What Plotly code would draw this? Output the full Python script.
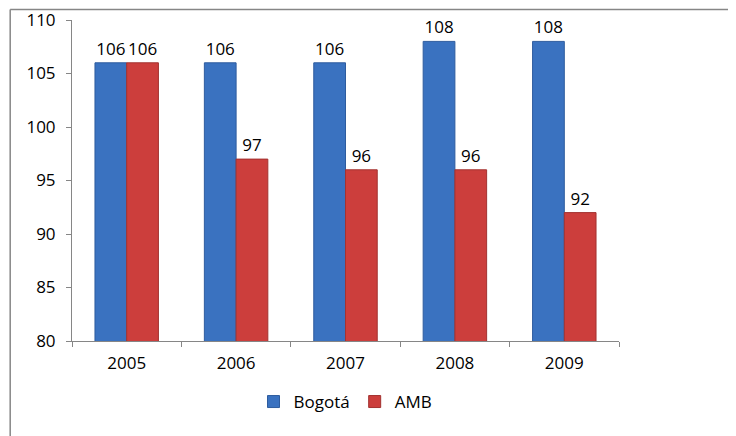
import plotly.graph_objects as go

years = ["2005", "2006", "2007", "2008", "2009"]
bogota = [106, 106, 106, 108, 108]
amb = [106, 97, 96, 96, 92]
y_ticks = [80, 85, 90, 95, 100, 105, 110]

FONT = "Open Sans"
FS = 17

fig = go.Figure()
fig.add_trace(go.Bar(
    x=years, y=bogota, name="Bogotá",
    marker=dict(color="#3A72C0", line=dict(color="#2E5C9E", width=1)),
    text=bogota, textposition="outside", cliponaxis=False,
    textfont=dict(family=FONT, size=FS, color="#000000"),
))
fig.add_trace(go.Bar(
    x=years, y=amb, name="AMB",
    marker=dict(color="#CC3E3C", line=dict(color="#A33230", width=1)),
    text=amb, textposition="outside", cliponaxis=False,
    textfont=dict(family=FONT, size=FS, color="#000000"),
))

fig.update_layout(
    width=736, height=436,
    margin=dict(l=64, r=125, t=12, b=103, autoexpand=False),
    paper_bgcolor="white", plot_bgcolor="white",
    barmode="group", bargap=0.42, bargroupgap=0,
    font=dict(family=FONT, size=FS, color="#000000"),
    showlegend=True,
    legend=dict(orientation="h", x=0.5, xanchor="center", y=-0.19, yanchor="middle",
                font=dict(family=FONT, size=FS), itemwidth=30, traceorder="normal"),
    shapes=[
        dict(type="line", xref="paper", yref="paper", x0=-0.113, x1=1.3, y0=1.033, y1=1.033,
             line=dict(color="#868686", width=1.5)),
        dict(type="line", xref="paper", yref="paper", x0=-0.113, x1=-0.113, y0=1.033, y1=-0.35,
             line=dict(color="#868686", width=1.5)),
    ],
)
fig.update_xaxes(
    showline=True, linecolor="#868686", linewidth=1,
    ticks="outside", ticklen=5, tickcolor="#868686", tickson="boundaries",
    ticklabelstandoff=7, automargin=False,
    showgrid=False, tickfont=dict(family=FONT, size=FS),
)
fig.update_yaxes(
    range=[80, 110], tickvals=y_ticks,
    showline=True, linecolor="#868686", linewidth=1,
    ticks="outside", ticklen=5, tickcolor="#868686",
    ticklabelstandoff=7, ticklabeloverflow="allow", automargin=False,
    showgrid=False, zeroline=False, tickfont=dict(family=FONT, size=FS),
)

fig.write_html("out.html")
